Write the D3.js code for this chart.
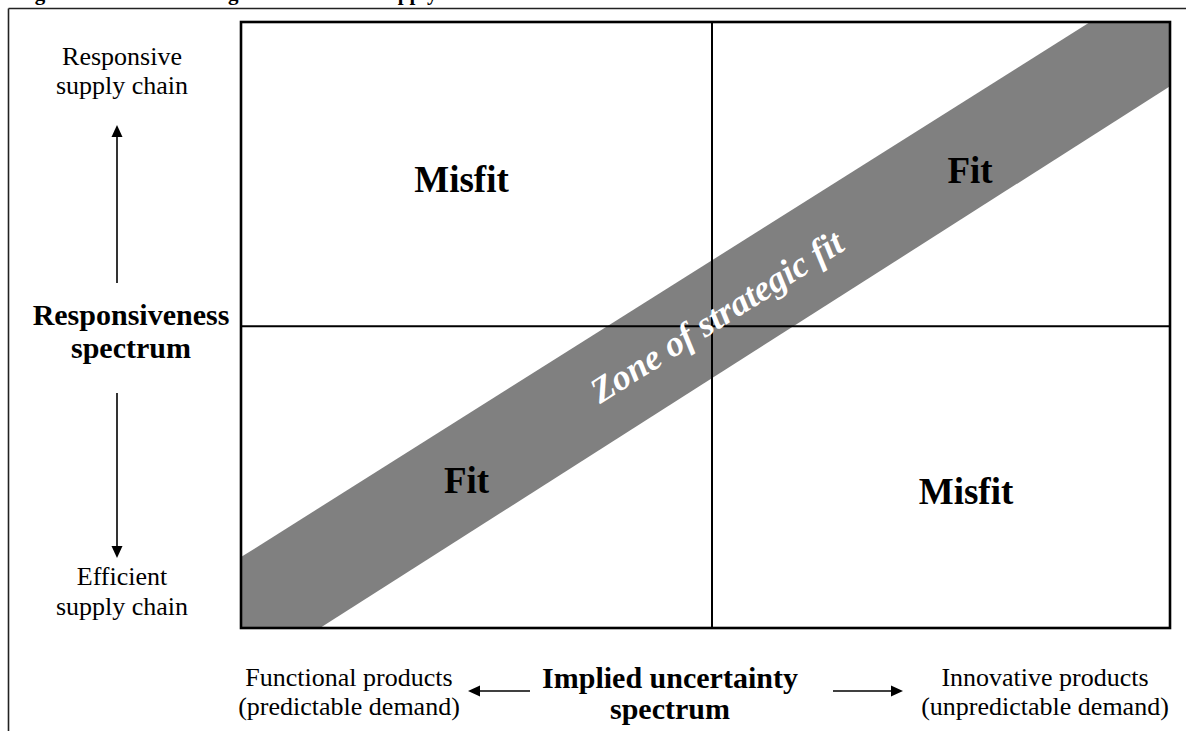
<!DOCTYPE html>
<html>
<head>
<meta charset="utf-8">
<script src="https://cdn.jsdelivr.net/npm/d3@7"></script>
<style>
  body { margin: 0; background: #fff; }
  text { font-family: "Times New Roman", "Liberation Serif", serif; fill: #000; }
</style>
</head>
<body>
<div id="chart"></div>
<script>
/**
 * DATA (unit coordinates inside the matrix: 0 = left/bottom, 1 = right/top)
 * */
const titleText = "Figure 1: Zone of strategic fit across the supply chain";
const quadrantLabels = ["Misfit", "Fit", "Fit", "Misfit"];   // TL, TR, BL, BR
const quadrantCells = [[0, 1], [1, 1], [0, 0], [1, 0]];        // [col, row]
const dividerX = [0.507];
const dividerY = [0.498];
const bandLower = [[0.085, 0], [1, 0.894]];
const bandUpper = [[0, 0.117], [0.914, 1]];
const bandLabel = "Zone of strategic fit";
const yAxisTop = ["Responsive", "supply chain"];
const yAxisTitle = ["Responsiveness", "spectrum"];
const yAxisBottom = ["Efficient", "supply chain"];
const xAxisLeft = ["Functional products", "(predictable demand)"];
const xAxisTitle = ["Implied uncertainty", "spectrum"];
const xAxisRight = ["Innovative products", "(unpredictable demand)"];

/**
 * CONSTANTS
 * */
const width = 1186,
  height = 731,
  box = { left: 241, right: 1170, top: 22, bottom: 628 };

const svg = d3.select("#chart")
  .append("svg")
  .attr("width", width)
  .attr("height", height);

// scales for the matrix
const xScale = d3.scaleLinear().domain([0, 1]).range([box.left, box.right]);
const yScale = d3.scaleLinear().domain([0, 1]).range([box.bottom, box.top]);

// title (cut off by the top of the page, only descenders show)
svg.append("text")
  .attr("x", 16)
  .attr("y", 0)
  .attr("font-weight", "bold")
  .attr("font-size", 21)
  .text(titleText);

// outer frame lines
svg.append("line")
  .attr("x1", 8.5).attr("x2", width).attr("y1", 8.5).attr("y2", 8.5)
  .attr("stroke", "#222").attr("stroke-width", 1.6);
svg.append("line")
  .attr("x1", 8.5).attr("x2", 8.5).attr("y1", 8.5).attr("y2", height)
  .attr("stroke", "#222").attr("stroke-width", 1.6);

// zone band, clipped to the matrix
svg.append("clipPath").attr("id", "boxclip")
  .append("rect")
  .attr("x", box.left).attr("y", box.top)
  .attr("width", box.right - box.left).attr("height", box.bottom - box.top);

const bandPoly = [
  [0, 0], bandLower[0], bandLower[1], [1, 1], bandUpper[1], bandUpper[0]
];
svg.append("path")
  .attr("clip-path", "url(#boxclip)")
  .attr("d", d3.line().x(d => xScale(d[0])).y(d => yScale(d[1]))(bandPoly) + "Z")
  .attr("fill", "#808080");

// dividers
svg.selectAll(".divx")
  .data(dividerX)
  .join("line")
  .attr("class", "divx")
  .attr("x1", d => xScale(d)).attr("x2", d => xScale(d))
  .attr("y1", box.top).attr("y2", box.bottom)
  .attr("stroke", "#000").attr("stroke-width", 2);
svg.selectAll(".divy")
  .data(dividerY)
  .join("line")
  .attr("class", "divy")
  .attr("y1", d => yScale(d)).attr("y2", d => yScale(d))
  .attr("x1", box.left).attr("x2", box.right)
  .attr("stroke", "#000").attr("stroke-width", 2);

// matrix border
svg.append("rect")
  .attr("x", box.left).attr("y", box.top)
  .attr("width", box.right - box.left).attr("height", box.bottom - box.top)
  .attr("fill", "none").attr("stroke", "#000").attr("stroke-width", 2.6);

// band label, rotated along the band
const midU = 0.512;
const lowY = (u) => bandLower[0][1] + (u - bandLower[0][0]) * (bandLower[1][1] - bandLower[0][1]) / (bandLower[1][0] - bandLower[0][0]);
const upY = (u) => bandUpper[0][1] + (u - bandUpper[0][0]) * (bandUpper[1][1] - bandUpper[0][1]) / (bandUpper[1][0] - bandUpper[0][0]);
const angle = Math.atan2(yScale(bandUpper[1][1]) - yScale(bandUpper[0][1]),
  xScale(bandUpper[1][0]) - xScale(bandUpper[0][0])) * 180 / Math.PI;
const cx = xScale(midU), cy = (yScale(lowY(midU)) + yScale(upY(midU))) / 2;
svg.append("text")
  .attr("transform", `translate(${cx},${cy}) rotate(${angle})`)
  .attr("dy", "0.34em")
  .attr("text-anchor", "middle")
  .attr("font-weight", "bold")
  .attr("font-style", "italic")
  .attr("font-size", 36)
  .style("fill", "#fff")
  .text(bandLabel);

// quadrant labels (nudged like the original)
const nudges = [[-15, 18], [29, 9], [-10, 16], [25, 27]];
svg.selectAll(".quad")
  .data(quadrantLabels)
  .join("text")
  .attr("class", "quad")
  .attr("x", (d, i) => {
    const c = quadrantCells[i][0];
    const a = c === 0 ? 0 : dividerX[0], b = c === 0 ? dividerX[0] : 1;
    return xScale((a + b) / 2) + nudges[i][0];
  })
  .attr("y", (d, i) => {
    const r = quadrantCells[i][1];
    const a = r === 0 ? 0 : dividerY[0], b = r === 0 ? dividerY[0] : 1;
    return yScale((a + b) / 2) + nudges[i][1];
  })
  .attr("text-anchor", "middle")
  .attr("font-weight", "bold")
  .attr("font-size", 37)
  .text(d => d);

// helper for stacked labels
function lines(arr, x, y0, step, size, bold) {
  svg.append("g").selectAll("text")
    .data(arr)
    .join("text")
    .attr("x", x)
    .attr("y", (d, i) => y0 + i * step)
    .attr("text-anchor", "middle")
    .attr("font-size", size)
    .attr("font-weight", bold ? "bold" : "normal")
    .text(d => d);
}

lines(yAxisTop, 122, 65, 29, 26, false);
lines(yAxisTitle, 131, 325, 33, 30, true);
lines(yAxisBottom, 122, 585, 30, 26, false);
lines(xAxisLeft, 349, 686, 29, 26, false);
lines(xAxisTitle, 670, 688, 31, 30, true);
lines(xAxisRight, 1045, 686, 29, 26, false);

// arrows
function arrow(x1, y1, x2, y2) {
  const a = Math.atan2(y2 - y1, x2 - x1), L = 12, W = 5.5;
  svg.append("line")
    .attr("x1", x1).attr("y1", y1)
    .attr("x2", x2 - Math.cos(a) * (L - 1)).attr("y2", y2 - Math.sin(a) * (L - 1))
    .attr("stroke", "#000").attr("stroke-width", 1.6);
  const bx = x2 - Math.cos(a) * L, by = y2 - Math.sin(a) * L;
  svg.append("path")
    .attr("d", `M${x2},${y2}L${bx - Math.sin(a) * W},${by + Math.cos(a) * W}L${bx + Math.sin(a) * W},${by - Math.cos(a) * W}Z`)
    .attr("fill", "#000");
}
arrow(117, 283, 117, 125);
arrow(117, 393, 117, 558);
arrow(530, 691, 468, 691);
arrow(833, 691, 903, 691);
</script>
</body>
</html>
